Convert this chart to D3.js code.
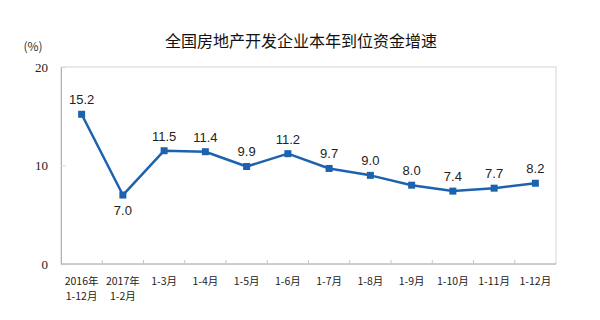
<!DOCTYPE html>
<html>
<head>
<meta charset="utf-8">
<script src="https://cdn.jsdelivr.net/npm/d3@7"></script>
<style>
  body { margin: 0; background: #fff; }
  text { font-family: "Noto Sans CJK SC", "Liberation Sans", sans-serif; }
</style>
</head>
<body>
<svg id="chart"></svg>
<script>
// data
const categories = ['2016年\n1-12月', '2017年\n1-2月', '1-3月', '1-4月', '1-5月', '1-6月',
  '1-7月', '1-8月', '1-9月', '1-10月', '1-11月', '1-12月'];
const values = [15.2, 7.0, 11.5, 11.4, 9.9, 11.2, 9.7, 9.0, 8.0, 7.4, 7.7, 8.2];
const yTicks = [0, 10, 20];
const title = '全国房地产开发企业本年到位资金增速';

const width = 600, height = 320;
const margin = {top: 67, right: 44, bottom: 56, left: 61};
const w = width - margin.left - margin.right;
const h = height - margin.top - margin.bottom;
const lineColor = '#1d62ae';

const svg = d3.select('#chart')
  .attr('width', width)
  .attr('height', height);

const data = categories.map((c, i) => ({cat: c, val: values[i]}));

const x = d3.scaleBand()
  .domain(categories)
  .range([0, w]);

const y = d3.scaleLinear()
  .domain([0, 20])
  .range([h, 0]);

// title
svg.append('text')
  .attr('x', 301)
  .attr('y', 47)
  .attr('text-anchor', 'middle')
  .style('font-size', '16px')
  .attr('fill', '#111')
  .text(title);

// unit
svg.append('text')
  .attr('x', 33)
  .attr('y', 51)
  .attr('text-anchor', 'middle')
  .style('font-size', '12px')
  .attr('fill', '#333')
  .text('(%)');

const g = svg.append('g')
  .attr('transform', `translate(${margin.left},${margin.top})`);

// plot frame
g.append('rect')
  .attr('x', 0).attr('y', 0)
  .attr('width', w).attr('height', h)
  .attr('fill', 'none')
  .attr('stroke', '#d4d4d4')
  .attr('stroke-width', 1);

// y axis
const yAxis = d3.axisLeft(y)
  .tickValues(yTicks)
  .tickSize(-5)
  .tickPadding(13);
const yAxisG = g.append('g').attr('class', 'axis y-axis').call(yAxis);
yAxisG.select('.domain').attr('stroke', '#b0b0b0');
yAxisG.selectAll('.tick line').attr('stroke', '#d8d8d8');
yAxisG.selectAll('text')
  .style('font-family', '"Liberation Serif", serif')
  .style('font-size', '13px')
  .attr('fill', '#222');

// x axis: ticks on band boundaries
const xAxisG = g.append('g')
  .attr('class', 'axis x-axis')
  .attr('transform', `translate(0,${h})`);
xAxisG.append('line')
  .attr('x1', 0).attr('x2', w)
  .attr('stroke', '#b0b0b0');
xAxisG.selectAll('.bound')
  .data(categories.slice(1))
  .join('line')
  .attr('class', 'bound')
  .attr('x1', d => x(d)).attr('x2', d => x(d))
  .attr('y1', 0).attr('y2', -4)
  .attr('stroke', '#c4c4c4');

// category labels, one text per row
const rows = categories.flatMap(c => c.split('\n').map((p, i) => ({cat: c, part: p, row: i})));
xAxisG.selectAll('.xlabel')
  .data(rows)
  .join('text')
  .attr('class', 'xlabel')
  .attr('text-anchor', 'middle')
  .attr('x', d => x(d.cat) + x.bandwidth() / 2)
  .attr('y', d => 21 + d.row * 15)
  .style('font-size', '10.5px')
  .attr('fill', '#222')
  .text(d => d.part);

// line
const line = d3.line()
  .x(d => x(d.cat) + x.bandwidth() / 2)
  .y(d => y(d.val));

g.append('path')
  .datum(data)
  .attr('fill', 'none')
  .attr('stroke', lineColor)
  .attr('stroke-width', 2.5)
  .attr('stroke-linejoin', 'round')
  .attr('d', line);

// markers
g.selectAll('.marker')
  .data(data)
  .join('rect')
  .attr('class', 'marker')
  .attr('x', d => x(d.cat) + x.bandwidth() / 2 - 3.5)
  .attr('y', d => y(d.val) - 3.5)
  .attr('width', 7)
  .attr('height', 7)
  .attr('fill', lineColor);

// value labels
g.selectAll('.val')
  .data(data)
  .join('text')
  .attr('class', 'val')
  .attr('text-anchor', 'middle')
  .attr('x', d => x(d.cat) + x.bandwidth() / 2)
  .attr('y', (d, i) => i === 1 ? y(d.val) + 20 : y(d.val) - 10)
  .style('font-family', '"Liberation Sans", Arial, sans-serif')
  .style('font-size', '13px')
  .attr('fill', '#222')
  .text(d => d.val.toFixed(1));
</script>
</body>
</html>
